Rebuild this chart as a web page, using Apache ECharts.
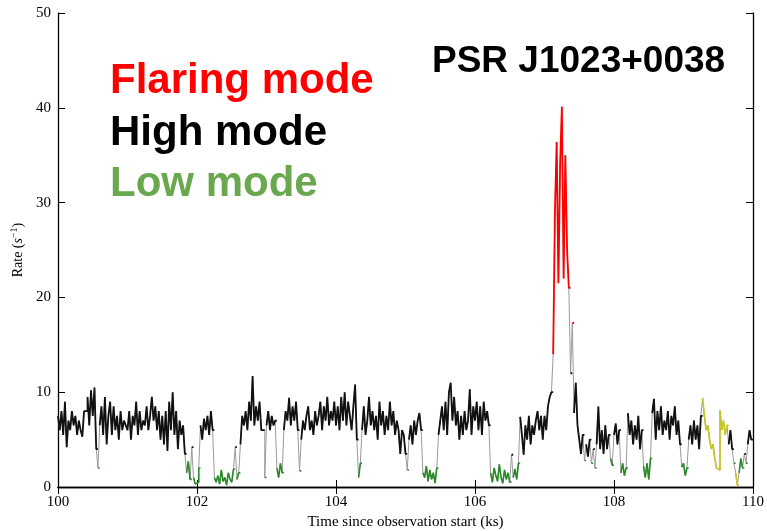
<!DOCTYPE html>
<html><head><meta charset="utf-8">
<script src="https://cdn.jsdelivr.net/npm/echarts@6/dist/echarts.min.js"></script>
<style>html,body{margin:0;padding:0;background:#fff}#c{width:767px;height:531px}</style>
</head><body><div id="c"></div>
<script>
// ---- data (light curve, 25 s bins, rate in counts/s) ----
const startTime = 100;      // ks
const binWidth = 0.025;     // ks
const ks100 = [7.5,6.0,8.0,5.5,9.0,4.2,7.0,6.0,8.0,6.5, 7.5,5.5,7.0,6.0,5.3,8.0,8.0,9.5,6.5,10.2, 7.5,10.5,4.0,2.0,6.5,8.5,5.5,9.5,4.5,7.5, 9.0,5.5,8.5,6.0,7.5,5.0,8.0,6.0,7.0,6.5];
const ks101 = [6.0,8.0,5.0,7.5,6.5,9.0,5.5,8.0,6.0,7.0, 6.5,8.5,6.0,7.5,9.5,7.0,8.5,6.0,8.0,5.0, 7.5,4.5,8.0,3.8,9.0,6.0,10.0,5.5,8.0,4.0, 7.0,5.5,6.5,3.5,1.5,2.7,0.8,4.2,1.0,0.3];
const ks102 = [0.5,2.0,6.5,5.0,7.2,6.0,7.5,5.5,8.0,6.0, 1.0,0.5,1.2,0.3,1.8,0.6,1.0,0.2,1.5,0.8, 0.5,1.9,4.2,0.8,1.5,4.5,7.5,6.5,8.0,6.0, 9.0,7.0,11.7,6.5,8.5,7.0,9.0,6.0,6.0,1.0];
const ks103 = [6.5,8.0,6.0,7.5,6.5,7.0,2.0,1.0,2.5,1.5, 6.0,8.0,7.0,9.4,6.5,8.5,7.0,9.0,6.0,1.7, 5.0,7.0,6.0,7.5,8.5,6.0,7.0,5.5,8.0,6.5, 7.5,9.0,6.0,8.5,7.0,9.5,6.5,8.0,7.0,9.0];
const ks104 = [6.5,8.5,6.0,9.5,7.0,10.0,6.5,9.0,7.5,6.0, 8.5,10.8,5.0,1.0,2.5,6.0,8.5,5.5,7.0,9.5, 6.5,8.0,6.0,7.5,5.0,9.0,6.5,8.0,5.5,7.5, 6.0,9.0,6.5,8.0,5.5,7.0,6.0,3.5,6.0,5.5];
const ks105 = [3.5,1.8,5.0,6.5,4.5,7.0,5.5,7.0,7.8,6.0, 1.5,1.0,2.2,0.6,1.8,0.8,1.5,0.4,2.0,5.5, 7.0,8.5,6.0,9.0,5.5,10.0,11.0,7.0,9.5,6.5, 8.0,5.0,7.5,5.5,8.0,6.0,7.0,10.3,5.5,8.5];
const ks106 = [7.0,9.0,6.0,8.5,5.5,9.0,7.0,8.0,6.5,1.5, 0.5,2.0,1.2,0.6,2.4,1.0,0.4,1.8,0.8,1.5, 0.5,3.4,1.0,1.9,0.8,2.5,7.4,5.5,3.4,6.5, 5.0,7.5,4.5,6.5,5.5,7.0,8.0,6.0,7.5,5.0];
const ks107 = [7.5,6.0,8.5,9.5,10.0,14.0,29.0,36.4,21.5,34.0, 40.1,22.0,35.0,25.0,21.0,12.0,17.3,7.8,11.0,6.5, 5.0,3.5,5.5,2.8,4.5,3.2,5.0,2.5,4.0,2.0, 4.5,8.5,4.0,6.0,3.5,6.5,4.0,5.5,3.0,2.3];
const ks108 = [5.5,6.7,4.5,6.0,1.5,2.5,1.2,2.0,7.8,5.5, 7.0,4.5,6.5,5.0,7.5,4.0,6.0,2.2,1.0,2.5, 0.8,3.0,7.8,9.3,5.0,8.0,6.0,8.5,5.5,7.0, 6.0,8.0,5.0,7.5,6.5,8.5,5.5,7.0,4.5,2.1];
const ks109 = [2.5,1.2,2.0,5.0,6.5,4.5,7.0,5.0,6.5,4.0, 7.5,9.4,7.5,6.0,6.5,5.0,4.0,4.5,3.0,2.0, 1.8,8.1,6.0,7.0,5.5,6.5,4.5,6.0,4.0,2.5, 1.5,0.2,1.5,3.0,2.0,3.5,2.5,4.5,6.0,5.0];

// mode classification
const lowMax = 3.0;          // rate at or below -> low mode
const flareMin = 13.0;       // rate at or above -> flaring mode
const yellowSpans = [[109.27, 109.63], [109.74, 109.78]];

const xTicks = [100, 102, 104, 106, 108, 110];
const yTicks = [0, 10, 20, 30, 40, 50];
const modeLabels = ['Flaring mode', 'High mode', 'Low mode'];
const sourceName = 'PSR J1023+0038';
const xTitle = 'Time since observation start (ks)';

// ---- build ----
const rates = [].concat(ks100, ks101, ks102, ks103, ks104, ks105, ks106, ks107, ks108, ks109);
const times = rates.map((v, i) => +(startTime + i * binWidth).toFixed(4));

function modeOf(i) {
  const t = times[i], v = rates[i];
  if (yellowSpans.some(s => t >= s[0] && t <= s[1])) return 'Y';
  if (v >= flareMin) return 'F';
  if (v <= lowMax) return 'L';
  return 'H';
}
function runsOf(mode) {
  const out = [];
  for (let i = 0; i < rates.length; i++) {
    if (modeOf(i) !== mode) continue;
    out.push([times[i], rates[i]]);
    if (i === rates.length - 1 || modeOf(i + 1) !== mode) {
      const tEnd = +(times[i] + binWidth).toFixed(4);
      out.push([tEnd, rates[i]]);
      out.push([tEnd, null]);
    }
  }
  return out;
}
const baseData = times.map((t, i) => [t, rates[i]]);
baseData.push([+(times[times.length - 1] + binWidth).toFixed(4), rates[rates.length - 1]]);

const serif = 'Liberation Serif';

function lineSeries(data, color, width, z) {
  return { type: 'line', data: data, step: 'end', showSymbol: false, symbol: 'none',
    connectNulls: false, z: z, silent: true, animation: false,
    lineStyle: { color: color, width: width } };
}

const axisCommon = {
  axisLine: { show: true, lineStyle: { color: '#000', width: 1.3 } },
  axisTick: { show: true, inside: true, length: 7, lineStyle: { color: '#000', width: 1 } },
  splitLine: { show: false }
};

const chart = echarts.init(document.getElementById('c'), null, { renderer: 'canvas' });
chart.setOption({
  animation: false,
  backgroundColor: '#fff',
  grid: { left: 58, right: 14, top: 13, bottom: 44, containLabel: false, outerBoundsMode: 'none' },
  xAxis: [
    Object.assign({}, axisCommon, { type: 'value', position: 'bottom', min: xTicks[0], max: xTicks[xTicks.length - 1], interval: xTicks[1] - xTicks[0],
      axisLabel: { color: '#000', fontFamily: serif, fontSize: 15, margin: 8 },
      name: xTitle, nameLocation: 'middle', nameGap: 28,
      nameTextStyle: { color: '#000', fontFamily: serif, fontSize: 15 } }),
    Object.assign({}, axisCommon, { type: 'value', position: 'top', min: xTicks[0], max: xTicks[xTicks.length - 1], interval: xTicks[1] - xTicks[0],
      axisLabel: { show: false } })
  ],
  yAxis: [
    Object.assign({}, axisCommon, { type: 'value', position: 'left', min: yTicks[0], max: yTicks[yTicks.length - 1], interval: yTicks[1] - yTicks[0],
      axisLabel: { color: '#000', fontFamily: serif, fontSize: 15, margin: 7 },
      name: '{a|Rate (}{b|s}{c|−1}{a|)}', nameLocation: 'middle', nameGap: 24, nameRotate: 90,
      nameTextStyle: { color: '#000', fontFamily: serif, fontSize: 14,
        rich: { a: { fontFamily: serif, fontSize: 14, color: '#000' },
                b: { fontFamily: serif, fontSize: 14, fontStyle: 'italic', color: '#000' },
                c: { fontFamily: serif, fontSize: 10, color: '#000', padding: [0, 0, 7, 0] } } } }),
    Object.assign({}, axisCommon, { type: 'value', position: 'right', min: yTicks[0], max: yTicks[yTicks.length - 1], interval: yTicks[1] - yTicks[0],
      axisLabel: { show: false } })
  ],
  series: [
    lineSeries(baseData, '#9a9a9a', 1, 1),
    lineSeries(runsOf('H'), '#111111', 1.8, 2),
    lineSeries(runsOf('L'), '#2a8a2a', 1.6, 3),
    lineSeries(runsOf('Y'), '#c9c427', 1.7, 3),
    lineSeries(runsOf('F'), '#ff0000', 1.8, 4)
  ],
  graphic: [
    { type: 'text', x: 110, y: 81, style: { text: modeLabels[0], fill: '#ff0000', font: 'bold 42px "Liberation Sans"', verticalAlign: 'middle' } },
    { type: 'text', x: 110, y: 133, style: { text: modeLabels[1], fill: '#000000', font: 'bold 42px "Liberation Sans"', verticalAlign: 'middle' } },
    { type: 'text', x: 110, y: 184, style: { text: modeLabels[2], fill: '#6aa84f', font: 'bold 42px "Liberation Sans"', verticalAlign: 'middle' } },
    { type: 'text', x: 432, y: 62, style: { text: sourceName, fill: '#000000', font: 'bold 37px "Liberation Sans"', verticalAlign: 'middle' } }
  ]
});
</script>
</body></html>
